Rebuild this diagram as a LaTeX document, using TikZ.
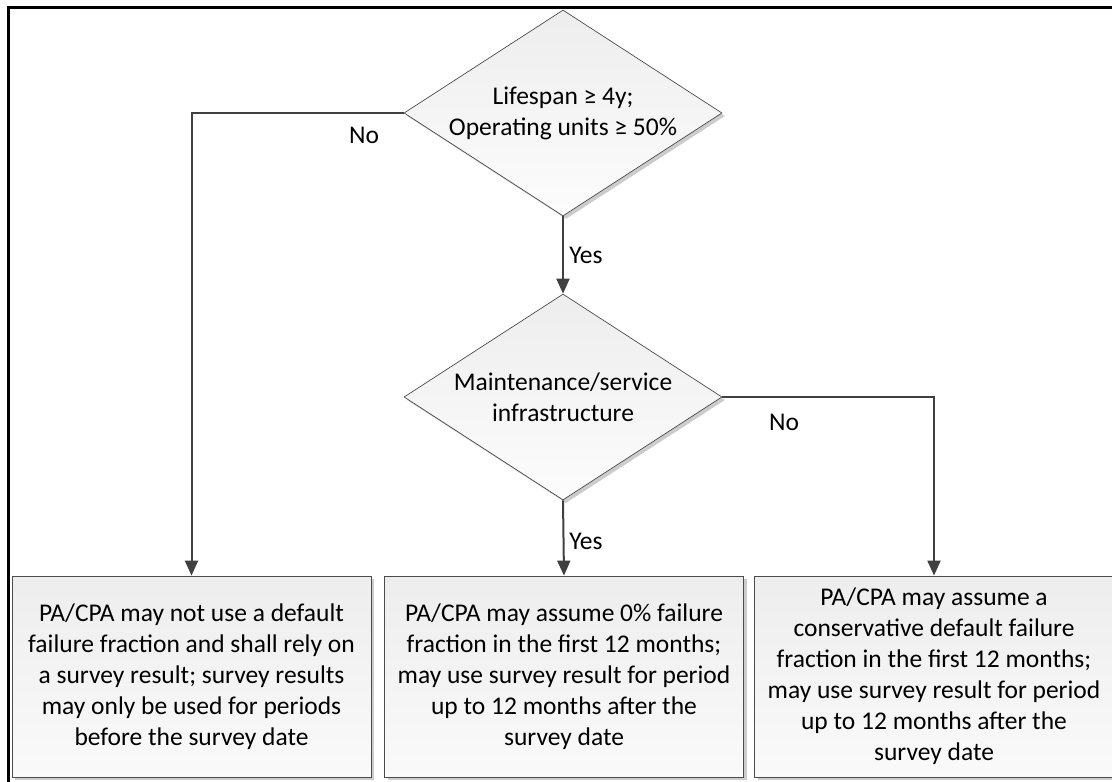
\documentclass[tikz,border=0pt]{standalone}
\usepackage{fontspec}
\setmainfont{Carlito}
\usetikzlibrary{shapes.geometric,shadows,arrows.meta}
\begin{document}
\begin{tikzpicture}[x=1pt,y=-1pt,
  txt/.style={font=\fontsize{25.5}{31}\selectfont},
  dia/.style={diamond, draw=black!70, line width=0.7pt, top color=black!7, bottom color=black!1,
    drop shadow={shadow xshift=3pt,shadow yshift=-3pt,fill=black!20,opacity=1},
    minimum width=318pt, minimum height=206pt, inner sep=0pt, aspect=1.54},
  dtext/.style={txt, align=center, inner sep=0pt},
  box/.style={rectangle, draw=black!70, line width=0.8pt, top color=black!7, bottom color=black!2,
    drop shadow={shadow xshift=3pt,shadow yshift=-3pt,fill=black!20,opacity=1},
    minimum width=359pt, minimum height=201pt, inner sep=0pt, align=center, txt},
  conn/.style={draw=black!75, line width=2pt, -{Triangle[length=15pt,width=13pt]}},
  lbl/.style={txt, inner sep=0pt}
]
\useasboundingbox (0,0) rectangle (1112,782);
\coordinate (fbl) at (8,782);
\coordinate (ftl) at (8,7);
\coordinate (ftr) at (1112,7);
\draw[line width=3pt] (fbl) -- (ftl) -- (ftr);

\node[dia] (d1) at (563,113) {};
\node[dtext] (t1) at (d1.center) {Lifespan ≥ 4y;\\Operating units ≥ 50\%};
\node[dia] (d2) at (563,397) {};
\node[dtext] (t2) at (d2.center) {Maintenance/service\\infrastructure};

\node[box] (b1) at (191.5,676.5) {PA/CPA may not use a default\\failure fraction and shall rely on\\a survey result; survey results\\may only be used for periods\\before the survey date};
\node[box] (b2) at (564,676.5) {PA/CPA may assume 0\% failure\\fraction in the first 12 months;\\may use survey result for period\\up to 12 months after the\\survey date};
\node[box] (b3) at (934,676.5) {PA/CPA may assume a\\conservative default failure\\fraction in the first 12 months;\\may use survey result for period\\up to 12 months after the\\survey date};

\draw[conn] (d1.south) -- (d2.north);
\draw[conn] (d1.west) -| (b1.north);
\draw[conn] (d2.east) -| (b3.north);
\draw[conn] (d2.south) -- (b2.north);

\node[lbl] (no1) at (364,135) {No};
\node[lbl] (yes1) at (586,255) {Yes};
\node[lbl] (no2) at (784,422) {No};
\node[lbl] (yes2) at (586,541) {Yes};
\end{tikzpicture}
\end{document}
